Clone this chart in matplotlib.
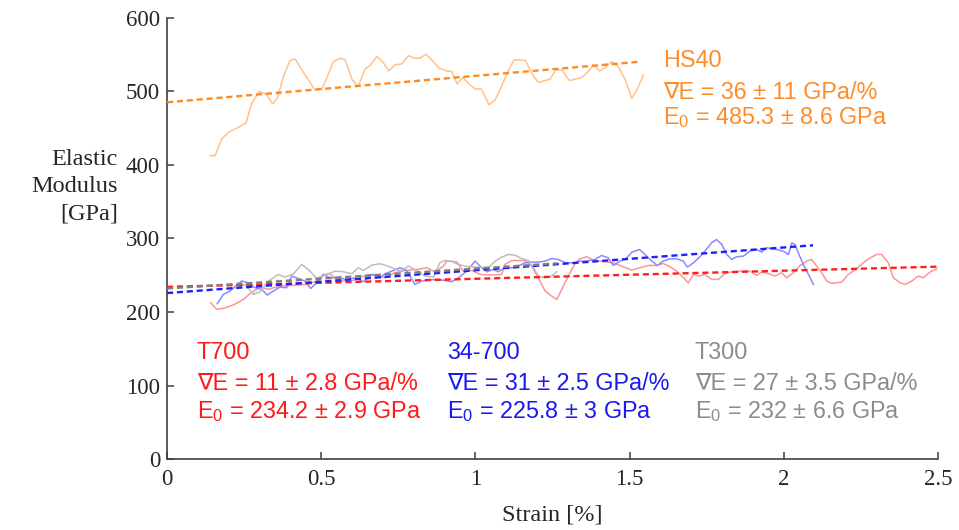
import matplotlib
matplotlib.use("Agg")
import matplotlib.pyplot as plt
import numpy as np

plt.rcParams['mathtext.fontset'] = 'custom'
plt.rcParams['mathtext.rm'] = 'Liberation Sans'
plt.rcParams['mathtext.it'] = 'Liberation Sans:italic'

# ---------------- data ----------------
hs40_strain = [0.139,0.156,0.177,0.199,0.226,0.256,0.275,0.299,0.321,0.342,0.358,0.379,0.399,0.415,0.447,0.480,0.502,0.518,0.539,0.561,0.577,0.601,0.620,0.642,0.660,0.680,0.699,0.719,0.739,0.761,0.783,0.801,0.820,0.839,0.858,0.883,0.905,0.923,0.941,0.959,0.982,0.999,1.020,1.044,1.064,1.082,1.104,1.125,1.145,1.163,1.182,1.204,1.226,1.242,1.261,1.280,1.305,1.323,1.345,1.366,1.382,1.404,1.422,1.442,1.463,1.485,1.507,1.525,1.545]
hs40_E = [412.7,412.7,435.3,444.3,450.2,457.0,484.1,500.0,496.8,483.2,490.9,522.6,542.1,544.3,523.0,502.2,503.1,518.1,540.7,545.2,543.0,515.8,506.8,530.3,536.2,547.5,540.7,528.0,536.2,537.5,548.9,545.2,545.2,550.7,543.0,531.6,528.0,527.2,510.4,519.0,509.0,503.6,503.1,481.9,488.7,504.5,525.8,543.0,543.0,542.1,524.9,512.2,514.9,516.7,529.4,529.4,514.9,516.7,519.0,527.2,536.2,528.0,533.0,540.7,533.9,516.7,490.9,503.1,522.6]

t700_strain = [0.142,0.161,0.183,0.215,0.248,0.269,0.302,0.329,0.345,0.377,0.420,0.453,0.485,0.512,0.529,0.550,0.572,0.604,0.637,0.669,
               0.707,0.739,0.772,0.810,0.842,0.869,0.896,0.907,0.939,0.961,0.988,1.015,1.053,1.085,1.096,1.118,1.161,1.182,1.204,1.226,1.247,1.264,1.280,1.301,1.323,
               1.339,1.361,1.382,1.426,1.447,1.480,1.507,1.534,1.561,1.588,1.609,1.631,1.653,1.669,1.690,1.707,1.723,1.744,1.766,1.788,1.809,1.831,1.863,1.890,1.912,1.928,1.950,1.971,1.993,
               2.009,2.031,2.053,2.074,2.090,2.107,2.123,2.139,2.155,2.188,2.209,2.236,2.258,2.280,2.301,2.317,2.339,2.355,2.377,2.393,2.415,2.436,2.452,2.474,2.496]
t700_E = [212.7,203.6,205.0,209.5,217.2,224.9,233.9,230.8,233.0,235.3,236.6,237.5,242.1,251.1,252.0,244.3,242.1,243.0,248.9,251.1,
          246.6,253.4,256.5,257.9,260.2,254.7,262.4,269.2,268.3,255.6,256.5,251.1,250.2,251.1,264.7,270.1,270.1,262.4,246.6,228.5,221.7,217.2,230.8,248.9,265.6,
          272.4,275.1,270.6,267.9,267.0,261.5,257.0,260.2,263.3,263.3,266.0,261.5,255.6,248.9,239.8,251.1,248.9,251.1,244.3,244.3,252.5,254.7,255.6,255.6,249.8,254.3,252.5,248.9,253.4,
          246.6,253.4,263.3,269.2,271.5,262.4,253.4,242.1,238.9,240.7,251.1,258.8,267.0,273.7,278.3,278.3,267.0,246.6,239.8,237.5,242.1,248.9,246.6,254.3,258.8]

c34_strain = [0.163,0.183,0.204,0.242,0.264,0.285,0.307,0.325,0.345,0.366,0.388,0.404,0.420,0.447,0.466,0.485,0.507,0.529,0.556,0.583,0.610,0.637,0.664,0.691,
              0.707,0.729,0.756,0.777,0.804,0.826,0.869,0.901,0.923,0.945,0.972,0.999,1.015,1.037,1.058,1.074,1.096,1.118,1.139,1.161,1.182,1.204,1.226,1.247,1.269,1.291,1.323,
              1.339,1.361,1.388,1.409,1.431,1.447,1.469,1.491,1.507,1.532,1.550,1.572,1.590,1.609,1.631,1.653,1.674,1.687,1.707,1.728,1.744,1.766,1.782,1.799,1.815,1.831,1.847,1.869,1.890,1.912,1.928,1.944,1.966,
              1.998,2.015,2.026,2.036,2.047,2.063,2.080,2.096]
c34_E = [211.3,224.0,228.5,242.1,239.8,233.0,230.8,223.1,228.5,233.9,233.0,248.9,246.6,242.1,232.1,239.8,251.1,246.6,246.6,244.3,246.6,241.2,251.1,246.6,
         252.0,255.6,260.2,256.5,237.5,242.1,244.3,243.0,241.2,246.6,255.6,269.2,262.4,254.7,257.9,254.7,260.2,260.2,262.4,267.0,267.9,267.9,269.2,272.8,271.5,267.0,267.0,
         269.2,269.2,271.5,276.9,273.7,263.3,269.2,273.7,281.4,285.1,278.3,269.2,263.3,269.2,272.4,272.4,269.2,261.1,267.0,275.1,282.8,294.1,298.6,291.8,278.3,271.5,275.1,276.0,282.8,285.1,281.4,287.3,286.0,
         282.8,278.3,294.1,291.8,280.5,264.7,251.1,237.5]

t300_strain = [0.225,0.253,0.280,0.302,0.329,0.361,0.383,0.410,0.437,0.464,0.485,0.518,0.545,0.572,0.599,0.620,0.637,0.664,0.691,
               0.707,0.729,0.756,0.783,0.810,0.837,0.864,0.885,0.901,0.923,0.939,0.966,0.999,1.042,1.064,1.085,1.107,1.128,1.150,1.172,1.188,1.204,1.226,1.242,1.264]
t300_E = [233.0,237.5,224.0,227.6,242.1,251.1,247.5,252.0,264.7,255.6,245.7,251.1,255.6,254.7,252.0,260.2,256.5,263.8,265.6,
          263.8,260.2,255.6,262.4,256.5,248.9,247.5,267.0,270.1,269.2,265.6,262.4,261.1,260.2,269.2,274.6,278.3,277.4,272.8,270.1,260.2,248.9,246.6,247.5,254.7]

# linear fits: (E0, slope, end strain)
names = ['HS40', 'T700', '34-700', 'T300']
fit_E0 = [485.3, 234.2, 225.8, 232.0]
fit_slope = [36, 11, 31, 27]
fit_end = [1.535, 2.5, 2.095, 1.265]
slope_txt = ['36 \u00b1 11', '11 \u00b1 2.8', '31 \u00b1 2.5', '27 \u00b1 3.5']
e0_txt = ['485.3 \u00b1 8.6', '234.2 \u00b1 2.9', '225.8 \u00b1 3', '232 \u00b1 6.6']

x_ticks = [0, 0.5, 1, 1.5, 2, 2.5]
x_ticklabels = ['0', '0.5', '1', '1.5', '2', '2.5']
y_ticks = [0, 100, 200, 300, 400, 500, 600]

# ---------------- styles ----------------
light = ['#FFC28C', '#FF9494', '#8A8AFF', '#BDBDBD']
dark = ['#FF8A1F', '#FF1E1E', '#1E1EFF', '#7F7F7F']
txtcol = ['#FF8C2A', '#FF1A1A', '#1A1AEE', '#8C8C8C']

fig = plt.figure(figsize=(9.59, 5.30), dpi=100)
ax = fig.add_axes([167/959, 1-459/530, (938-167)/959, (459-18)/530])

series = [(hs40_strain, hs40_E), (t700_strain, t700_E), (c34_strain, c34_E), (t300_strain, t300_E)]
for i, (xs, ys) in enumerate(series):
    ax.plot(xs, ys, color=light[i], lw=1.1, zorder=2)

for i in range(4):
    xf = np.array([0, fit_end[i]])
    yf = fit_E0[i] + fit_slope[i] * xf
    ax.plot(xf, yf, color=dark[i], lw=1.7, dashes=(2.6, 1.6), zorder=3)

ax.set_xlim(0, 2.5)
ax.set_ylim(0, 600)
ax.set_xticks(x_ticks)
ax.set_xticklabels(x_ticklabels)
ax.set_yticks(y_ticks)
for s in ['top', 'right']:
    ax.spines[s].set_visible(False)
for s in ['left', 'bottom']:
    ax.spines[s].set_color('#404040')
    ax.spines[s].set_linewidth(1.2)
ax.tick_params(direction='in', length=5, width=1.1, color='#404040',
               labelsize=16.5, labelcolor='#262626')
ax.tick_params(axis='x', pad=7)
ax.tick_params(axis='y', pad=5)
for lab in ax.get_xticklabels() + ax.get_yticklabels():
    lab.set_family('Liberation Serif')

fig.text(118/959, 1-187/530, 'Elastic\nModulus\n[GPa]', ha='right', va='center',
         ma='right', family='Liberation Serif', fontsize=17.5, color='#262626', linespacing=1.4)
fig.text(552/959, 1-515/530, 'Strain [%]', ha='center', va='center',
         family='Liberation Serif', fontsize=17.5, color='#262626')

# annotation blocks (data coordinates)
blocks = [(1.608, [533.9, 490.0, 455.0]),
          (0.097, [135.7, 93.7, 55.6]),
          (0.908, [135.7, 93.7, 55.6]),
          (1.712, [135.7, 93.7, 55.6])]
for i, (bx, ysl) in enumerate(blocks):
    kw = dict(color=txtcol[i], fontsize=16.8, va='baseline', ha='left')
    ax.text(bx, ysl[0], names[i], family=['Liberation Sans', 'DejaVu Sans'], **kw)
    ax.text(bx, ysl[1], '\u2207E = ' + slope_txt[i] + ' GPa/%', family=['Liberation Sans', 'DejaVu Sans'], **kw)
    ax.text(bx, ysl[2], r'E$_\mathregular{0}$ = ' + e0_txt[i] + ' GPa', family='Liberation Sans', **kw)

fig.savefig('out.png', dpi=100)
